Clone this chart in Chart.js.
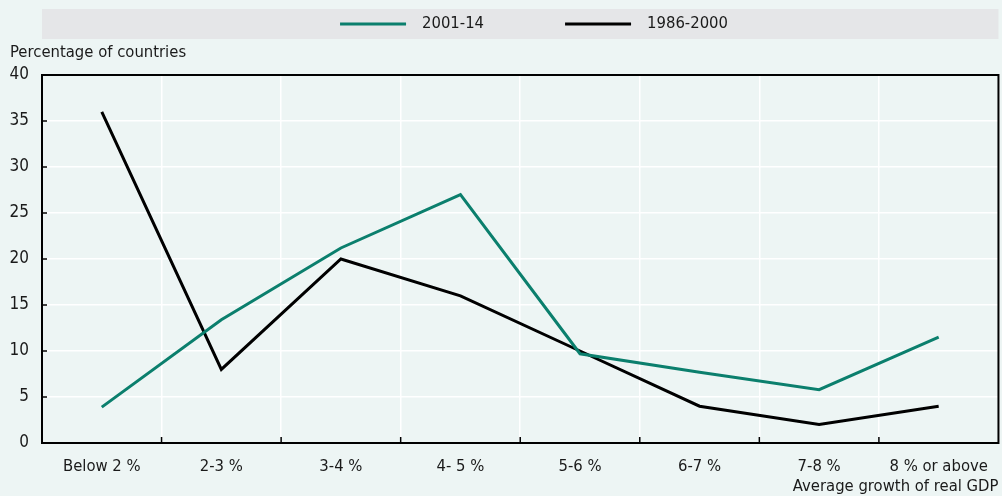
<!DOCTYPE html>
<html>
<head>
<meta charset="utf-8">
<script src="https://cdn.jsdelivr.net/npm/chart.js@4"></script>
<style>
  html, body { margin: 0; padding: 0; background: #edf5f4; }
  #wrap { width: 1002px; height: 496px; }
</style>
</head>
<body>
<div id="wrap"><canvas id="growthChart" width="1002" height="496"></canvas></div>
<script>
// categories and values
const categories = ['Below 2 %', '2-3 %', '3-4 %', '4- 5 %', '5-6 %', '6-7 %', '7-8 %', '8 % or above'];
const recentShare = [3.9, 13.4, 21.2, 27.0, 9.7, 7.7, 5.8, 11.5];   // 2001-14
const earlierShare = [36, 8, 20, 16, 10, 4, 2, 4];                   // 1986-2000
const yTicks = [0, 5, 10, 15, 20, 25, 30, 35, 40];

const FONT = "'Liberation Sans Narrow', 'DejaVu Sans Condensed', 'Arial Narrow', sans-serif";
const GREEN = '#0b7f6d';

// frame, inner ticks, axis titles and legend strip
const decorations = {
    id: 'decorations',
    beforeDraw(chart) {
        const { ctx, chartArea: a } = chart;
        ctx.save();
        ctx.fillStyle = '#edf5f4';
        ctx.fillRect(0, 0, chart.width, chart.height);
        // legend strip
        ctx.fillStyle = '#e5e6e8';
        ctx.fillRect(a.left, 9, a.right - a.left, 30);
        ctx.restore();
    },
    afterDraw(chart) {
        const { ctx, chartArea: a, scales } = chart;
        ctx.save();
        ctx.strokeStyle = '#000';
        ctx.lineWidth = 2;
        ctx.strokeRect(a.left, a.top, a.right - a.left, a.bottom - a.top);

        // inner ticks on the y axis
        ctx.lineWidth = 1.5;
        yTicks.forEach(v => {
            const y = scales.y.getPixelForValue(v);
            ctx.beginPath();
            ctx.moveTo(a.left, y);
            ctx.lineTo(a.left + 5, y);
            ctx.stroke();
        });
        // inner ticks on the x axis, between categories
        for (let i = 1; i < categories.length; i++) {
            const x = (scales.x.getPixelForValue(i - 1) + scales.x.getPixelForValue(i)) / 2;
            ctx.beginPath();
            ctx.moveTo(x, a.bottom);
            ctx.lineTo(x, a.bottom - 6);
            ctx.stroke();
        }

        ctx.fillStyle = '#1a1a1a';
        ctx.font = '16.5px ' + FONT;
        ctx.textBaseline = 'middle';
        ctx.textAlign = 'left';
        ctx.fillText('Percentage of countries', 10, 53);
        ctx.textAlign = 'right';
        ctx.fillText('Average growth of real GDP', a.right, 487);

        // legend
        const items = chart.data.datasets;
        ctx.textAlign = 'left';
        const lineLen = 66, gap = 16, between = 81;
        const widths = items.map(d => lineLen + gap + ctx.measureText(d.label).width);
        const total = widths.reduce((s, w) => s + w, 0) + between * (items.length - 1);
        let x = 534 - total / 2;
        items.forEach((d, i) => {
            ctx.strokeStyle = d.borderColor;
            ctx.lineWidth = 3;
            ctx.beginPath();
            ctx.moveTo(x, 24);
            ctx.lineTo(x + lineLen, 24);
            ctx.stroke();
            ctx.fillStyle = '#1a1a1a';
            ctx.fillText(d.label, x + lineLen + gap, 24);
            x += widths[i] + between;
        });
        ctx.restore();
    }
};

new Chart(document.getElementById('growthChart'), {
    type: 'line',
    data: {
        labels: categories,
        datasets: [
            {
                label: '2001-14',
                data: recentShare,
                borderColor: GREEN,
                borderWidth: 3,
                pointRadius: 0,
                tension: 0
            },
            {
                label: '1986-2000',
                data: earlierShare,
                borderColor: '#000000',
                borderWidth: 3,
                pointRadius: 0,
                tension: 0
            }
        ]
    },
    options: {
        responsive: false,
        animation: false,
        layout: { padding: { top: 75, left: 10, right: 2, bottom: 0 } },
        plugins: {
            legend: { display: false },
            tooltip: { enabled: false }
        },
        scales: {
            x: {
                offset: true,
                grid: { offset: true, color: '#ffffff', lineWidth: 1.5, drawTicks: false },
                border: { display: false },
                ticks: { color: '#1a1a1a', font: { family: FONT, size: 16.5 }, padding: 14, maxRotation: 0 },
                afterFit(scale) { scale.height = 53; }
            },
            y: {
                min: 0,
                max: 40,
                afterBuildTicks(scale) { scale.ticks = yTicks.map(v => ({ value: v })); },
                grid: { color: '#ffffff', lineWidth: 1.5, drawTicks: false },
                border: { display: false },
                ticks: { color: '#1a1a1a', font: { family: FONT, size: 17 }, padding: 13 },
                afterFit(scale) { scale.width = 32; }
            }
        }
    },
    plugins: [decorations]
});
</script>
</body>
</html>
